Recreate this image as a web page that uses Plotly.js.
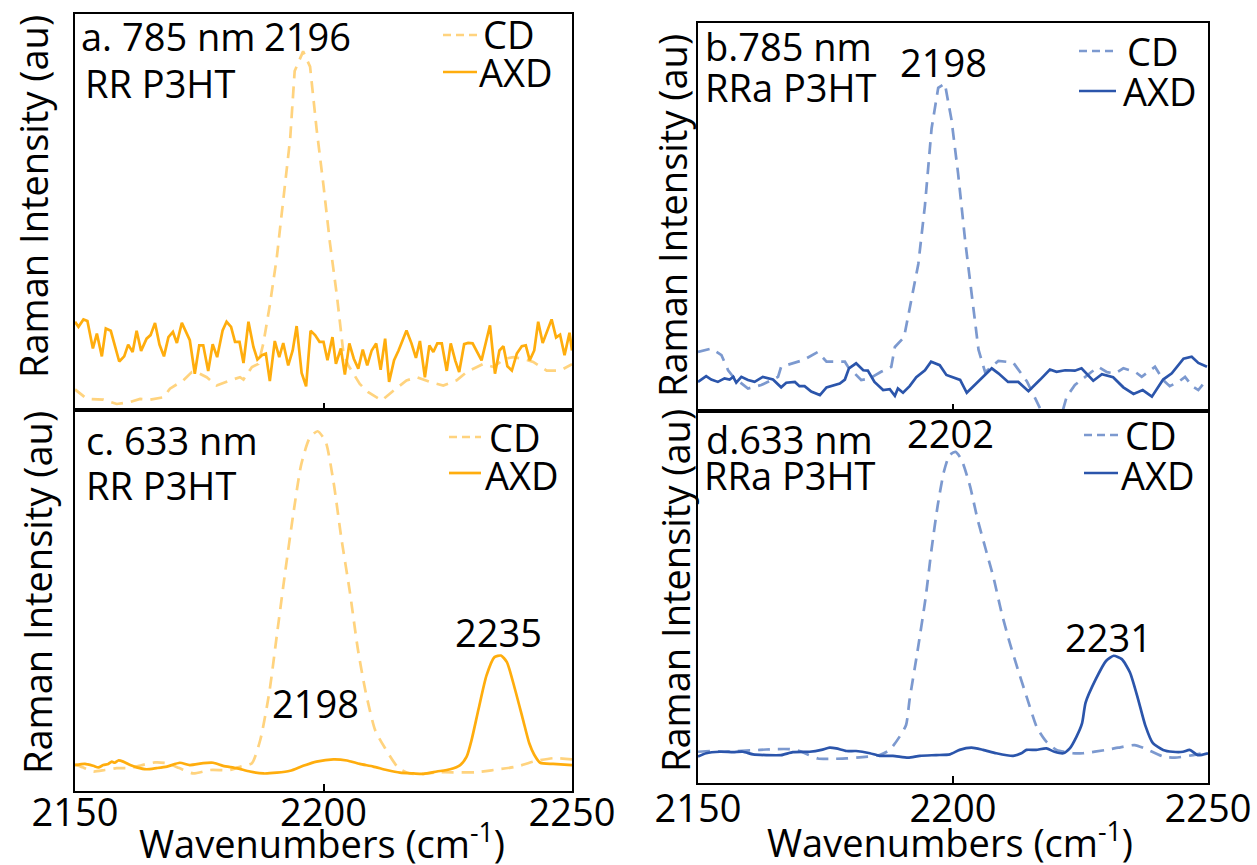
<!DOCTYPE html>
<html>
<head>
<meta charset="utf-8">
<script src="https://cdn.plot.ly/plotly-3.0.1.min.js"></script>
<style>html,body{margin:0;padding:0;background:#fff}#chart{width:1257px;height:865px}</style>
</head>
<body>
<div id="chart"></div>
<script>
// ---------- data (wavenumber cm^-1, Raman intensity in arbitrary units) ----------
const tickVals = [2150, 2200, 2250];
const tickText = ['2150', '2200', '2250'];

// a. 785 nm, RR P3HT
const a_cd_x = [2150.0,2152.4,2155.7,2158.4,2161.1,2163.1,2165.1,2167.8,2169.1,2171.8,2173.5,2174.8,2176.5,2178.5,2181.2,2183.2,2183.9,2185.6,2186.9,2187.9,2189.2,2190.6,2191.9,2193.3,2194.2,2195.9,2197.3,2198.6,2200.0,2201.3,2202.7,2204.0,2205.0,2207.3,2209.0,2211.7,2213.7,2216.7,2218.8,2221.4,2224.1,2226.8,2228.8,2232.2,2234.2,2236.5,2238.2,2240.2,2242.2,2244.9,2247.6,2250.0];
const a_cd_y = [4.6,2.2,2.0,0.9,1.4,2.2,2.0,2.6,4.8,6.9,9.0,8.8,7.7,5.6,6.9,7.7,7.1,10.3,11.1,16.3,26.0,38.1,52.7,68.4,85.5,90.5,86.6,70.9,56.4,41.8,28.4,13.9,10.7,6.0,3.9,1.8,3.9,6.9,7.7,6.5,5.6,6.9,9.0,11.1,10.3,12.4,12.8,12.4,11.6,9.4,9.4,11.0];
const a_axd_x = [2150.0,2150.7,2151.7,2152.5,2153.6,2154.4,2155.4,2156.2,2157.2,2158.9,2159.9,2160.7,2161.6,2162.4,2163.3,2164.4,2165.2,2166.1,2167.0,2167.9,2168.8,2169.7,2170.5,2171.5,2173.1,2174.1,2175.0,2175.8,2176.8,2177.7,2178.6,2179.7,2180.5,2181.4,2182.2,2183.1,2183.9,2184.9,2185.9,2186.7,2187.6,2188.4,2189.2,2190.2,2191.1,2191.9,2192.9,2193.8,2194.6,2195.6,2196.5,2197.4,2198.3,2199.2,2200.0,2200.8,2201.8,2202.5,2203.5,2204.3,2205.2,2206.1,2207.0,2207.9,2208.8,2209.7,2210.6,2211.5,2212.4,2213.2,2214.2,2215.1,2216.7,2217.7,2218.6,2219.4,2220.4,2221.3,2222.1,2222.9,2223.8,2224.8,2225.6,2226.5,2227.3,2228.3,2229.1,2230.0,2231.8,2233.5,2234.5,2235.4,2236.2,2237.0,2237.9,2238.9,2239.9,2240.7,2241.5,2242.4,2243.2,2244.1,2245.9,2246.8,2247.6,2248.5,2249.5,2250.0];
const a_axd_y = [21.8,20.5,22.4,22.0,15.0,18.8,13.0,20.1,19.5,11.7,13.0,16.0,14.1,19.5,14.4,17.5,18.4,21.5,16.0,13.0,17.9,19.2,16.4,21.5,17.1,8.6,15.8,15.8,9.3,16.1,12.8,19.6,21.8,20.5,16.7,16.7,11.3,21.8,15.4,12.2,13.3,13.7,6.7,16.9,12.8,16.4,10.7,14.5,20.7,8.8,5.4,19.5,18.4,16.7,16.7,12.0,17.9,11.1,15.0,8.4,16.3,12.4,9.9,14.7,10.7,14.5,16.3,9.6,17.5,6.5,12.0,14.5,19.6,16.3,12.6,16.9,7.7,15.8,14.1,16.3,16.3,9.3,16.3,12.0,9.0,16.1,16.4,16.3,12.0,20.9,8.6,14.5,15.6,10.5,9.4,13.7,15.6,15.8,12.0,14.5,21.8,16.4,22.4,17.8,18.5,13.3,19.0,14.5];

// b. 785 nm, RRa P3HT
const b_cd_x = [2150.0,2152.6,2154.6,2155.9,2156.9,2159.8,2162.4,2165.7,2166.3,2168.6,2170.6,2173.5,2175.2,2178.8,2179.4,2182.0,2183.7,2185.9,2187.9,2188.6,2190.4,2193.2,2194.5,2195.8,2197.1,2198.4,2199.7,2201.0,2202.4,2203.7,2205.0,2206.3,2208.9,2211.8,2214.5,2216.1,2217.4,2219.4,2221.0,2222.3,2223.9,2227.2,2228.5,2230.2,2231.8,2233.4,2235.7,2237.0,2238.2,2239.6,2241.2,2242.5,2244.2,2245.5,2246.9,2248.1,2249.7];
const b_cd_y = [15.2,16.1,14.4,10.5,8.8,5.8,6.7,8.8,11.4,12.3,13.1,15.2,12.7,12.7,11.4,8.0,8.4,10.1,11.4,16.5,19.0,37.9,53.0,72.8,83.3,84.4,75.1,61.2,43.7,29.7,15.8,10.0,12.9,12.5,7.6,3.3,-0.2,-4.9,-2.3,3.7,6.7,10.1,11.4,10.0,9.7,11.0,10.1,8.8,10.0,11.4,8.0,6.4,7.5,8.8,6.4,5.4,8.0];
const b_axd_x = [2150.0,2151.6,2152.6,2153.9,2155.2,2156.2,2156.9,2157.5,2158.5,2159.8,2161.1,2162.7,2164.7,2166.3,2167.3,2169.0,2169.9,2170.9,2172.2,2173.9,2175.2,2176.5,2177.8,2178.8,2179.6,2181.0,2182.4,2183.3,2184.6,2186.3,2187.6,2188.6,2189.2,2190.2,2191.5,2192.8,2194.5,2195.7,2197.4,2198.7,2199.7,2201.4,2202.7,2204.3,2205.9,2207.6,2208.9,2210.8,2212.8,2214.8,2217.1,2219.0,2220.3,2222.0,2223.9,2225.2,2227.5,2229.2,2231.4,2233.4,2235.4,2237.2,2239.0,2241.2,2242.9,2245.2,2246.8,2248.1,2249.8];
const b_axd_y = [7.5,9.0,8.1,7.5,8.4,8.1,8.8,7.3,8.8,8.0,7.5,8.8,8.1,6.1,7.3,7.5,6.4,6.4,5.0,4.1,6.1,6.7,7.1,8.1,11.0,12.3,10.5,10.4,7.5,5.4,5.6,3.9,5.8,4.7,6.4,8.7,10.5,12.7,11.8,9.3,8.8,8.0,4.7,6.7,8.8,11.0,9.7,7.5,7.5,5.1,8.1,10.7,10.1,10.5,10.4,11.0,7.8,9.5,8.7,6.1,4.4,5.4,3.7,8.1,9.7,13.5,14.0,12.4,11.4];

// c. 633 nm, RR P3HT
const c_cd_x = [2150.0,2151.5,2153.7,2156.0,2158.4,2161.1,2163.5,2166.1,2168.5,2171.0,2173.8,2177.2,2181.2,2183.5,2185.6,2187.3,2189.1,2190.7,2192.3,2193.9,2195.5,2197.2,2198.8,2200.4,2202.0,2203.6,2205.3,2206.9,2208.5,2210.4,2212.4,2215.1,2217.4,2220.0,2222.8,2226.1,2230.5,2234.2,2238.9,2242.2,2246.2,2250.0];
const c_cd_y = [7.0,6.2,5.1,5.5,6.0,6.0,6.8,7.5,7.3,6.0,4.6,5.5,5.5,6.5,7.3,13.5,25.9,41.7,57.5,72.4,85.5,92.5,94.3,91.7,81.1,66.2,52.2,37.3,25.9,15.9,11.2,6.0,4.6,4.5,4.9,4.9,4.9,5.5,6.4,7.7,8.6,8.3];
const c_axd_x = [2150.0,2152.0,2153.7,2154.7,2155.7,2156.7,2157.4,2158.0,2158.7,2159.7,2161.1,2162.4,2164.4,2166.4,2168.5,2171.1,2173.1,2175.8,2177.8,2179.8,2182.5,2185.2,2187.9,2190.6,2193.3,2195.9,2198.6,2202.0,2204.7,2207.3,2210.0,2212.7,2215.4,2218.1,2220.1,2222.8,2225.5,2227.5,2228.8,2229.8,2231.2,2232.8,2234.4,2235.7,2236.9,2238.5,2240.1,2241.4,2242.4,2243.6,2246.2,2250.0];
const c_axd_y = [6.8,7.1,6.6,6.2,6.8,7.1,7.7,7.4,8.0,7.7,6.8,6.2,5.7,6.0,6.4,7.4,6.8,7.3,7.4,6.6,6.0,5.1,4.6,4.8,5.3,6.6,7.7,8.3,8.0,7.1,6.4,5.5,4.8,4.6,4.5,5.1,5.7,6.8,9.0,13.4,21.5,30.3,35.1,35.5,33.8,26.8,18.9,12.5,9.5,7.4,7.1,6.8];

// d. 633 nm, RRa P3HT
const d_cd_x = [2150.0,2152.3,2155.2,2162.1,2164.7,2168.0,2169.9,2173.5,2175.8,2179.1,2181.7,2185.6,2187.6,2189.5,2190.8,2191.5,2193.0,2194.6,2195.8,2197.0,2198.2,2199.3,2200.5,2201.7,2203.3,2204.8,2206.4,2208.0,2209.5,2211.1,2212.7,2214.6,2216.5,2218.3,2220.3,2223.5,2225.5,2230.1,2232.4,2235.6,2237.9,2241.2,2243.5,2247.1,2250.0];
const d_cd_y = [8.4,8.6,8.4,8.9,9.1,9.1,8.6,6.6,6.5,6.6,6.9,7.5,8.9,12.4,15.6,22.5,35.1,49.5,62.9,74.6,83.6,88.1,89.0,86.8,80.0,71.0,62.9,54.9,45.9,37.8,30.6,22.5,14.8,11.1,8.9,8.0,8.0,8.9,9.5,10.2,9.1,7.1,6.8,7.5,8.3];
const d_axd_x = [2150.0,2151.6,2154.3,2156.9,2158.8,2160.8,2163.4,2166.3,2168.6,2171.9,2174.2,2175.8,2177.1,2179.1,2181.0,2183.7,2185.6,2188.2,2191.2,2193.5,2196.7,2199.4,2201.3,2203.6,2205.9,2208.5,2211.8,2213.4,2214.4,2216.3,2218.3,2219.9,2221.6,2222.9,2224.2,2225.3,2226.0,2228.0,2230.0,2231.5,2233.1,2234.7,2236.3,2237.7,2239.2,2241.2,2243.1,2245.1,2246.4,2248.0,2250.0];
const d_axd_y = [7.1,8.0,8.4,8.3,8.4,7.7,7.5,7.5,8.3,8.4,8.9,9.5,9.3,8.6,8.6,8.0,7.3,7.3,6.8,7.3,7.5,7.7,8.9,9.5,8.9,8.0,7.3,8.0,8.9,8.9,9.3,8.4,8.0,9.3,12.4,16.0,21.6,27.9,32.8,34.2,33.3,29.7,22.5,15.5,10.7,8.9,8.4,8.4,8.9,7.5,8.0];

// ---------- styling ----------
const W = 1257, H = 865;
const FONT = 'Open Sans';
const ORANGE = '#FFAD0D', ORANGE_L = '#FFD37E';
const BLUE = '#2B55AB', BLUE_L = '#7C99CF';
const DASH = '12px,8px';
const px = v => v / W;
const py = v => 1 - v / H;

function tr(x, y, xa, ya, color, dashed, name, shape) {
  return {x, y, xaxis: xa, yaxis: ya, type: 'scatter', mode: 'lines', name,
    showlegend: false, hoverinfo: 'skip',
    line: {color, width: 2.7, dash: dashed ? DASH : 'solid', shape: shape || 'linear', smoothing: 0.6}};
}

const data = [
  tr(a_cd_x, a_cd_y, 'x', 'y', ORANGE_L, true, 'CD'),
  tr(a_axd_x, a_axd_y, 'x', 'y', ORANGE, false, 'AXD'),
  tr(b_cd_x, b_cd_y, 'x2', 'y2', BLUE_L, true, 'CD'),
  tr(b_axd_x, b_axd_y, 'x2', 'y2', BLUE, false, 'AXD'),
  tr(c_cd_x, c_cd_y, 'x3', 'y3', ORANGE_L, true, 'CD', 'spline'),
  tr(c_axd_x, c_axd_y, 'x3', 'y3', ORANGE, false, 'AXD', 'spline'),
  tr(d_cd_x, d_cd_y, 'x4', 'y4', BLUE_L, true, 'CD', 'spline'),
  tr(d_axd_x, d_axd_y, 'x4', 'y4', BLUE, false, 'AXD', 'spline')
];

function xax(l, r, anchor, labels, standoff) {
  return {domain: [px(l), px(r)], anchor, range: [2150, 2250], tickvals: tickVals, ticktext: tickText,
    showticklabels: labels, ticks: 'inside', ticklen: 7, tickwidth: 2, tickcolor: '#000',
    ticklabelstandoff: standoff || 0,
    showline: true, mirror: true, linecolor: '#000', linewidth: 2,
    showgrid: false, zeroline: false, fixedrange: true,
    tickfont: {family: FONT, size: 38, color: '#000'}};
}
function yax(t, b, anchor, range) {
  return {domain: [py(b), py(t)], anchor, range, showticklabels: false, ticks: '',
    showline: true, mirror: true, linecolor: '#000', linewidth: 2,
    showgrid: false, zeroline: false, fixedrange: true};
}

function txt(t, x, y, anchor, angle) {
  return {text: t, x: px(x), y: py(y), xref: 'paper', yref: 'paper',
    xanchor: anchor || 'left', yanchor: 'middle', showarrow: false,
    textangle: angle || 0, font: {family: FONT, size: 38, color: '#000'}};
}
function sample(x0, x1, y, color, dashed) {
  return {type: 'line', xref: 'paper', yref: 'paper', x0: px(x0), x1: px(x1), y0: py(y), y1: py(y),
    line: {color, width: 2.7, dash: dashed ? '8px,5px' : 'solid'}};
}

const annotations = [
  // panel a
  txt('a. 785 nm', 79, 36), txt('RR P3HT', 83, 83), txt('2196', 307, 36, 'center'),
  txt('CD', 481, 34), txt('AXD', 477, 72),
  // panel b
  txt('b.785 nm', 703, 46), txt('RRa P3HT', 703, 87), txt('2198', 943, 62, 'center'),
  txt('CD', 1125, 51), txt('AXD', 1121, 91),
  // panel c
  txt('c. 633 nm', 84, 440), txt('RR P3HT', 84, 485), txt('2235', 498, 632, 'center'), txt('2198', 315, 703, 'center'),
  txt('CD', 487, 437), txt('AXD', 483, 475),
  // panel d
  txt('d.633 nm', 704, 439), txt('RRa P3HT', 702, 475), txt('2202', 950, 433, 'center'), txt('2231', 1108, 637, 'center'),
  txt('CD', 1123, 435), txt('AXD', 1119, 475),
  // axis titles
  txt('Raman Intensity (au)', 33, 197, 'center', -90),
  txt('Raman Intensity (au)', 37, 593, 'center', -90),
  txt('Raman Intensity (au)', 672, 216, 'center', -90),
  txt('Raman Intensity (au)', 675, 591, 'center', -90),
  txt('Wavenumbers (cm<sup>-1</sup>)', 322, 841, 'center'),
  txt('Wavenumbers (cm<sup>-1</sup>)', 950, 840, 'center')
];

const shapes = [
  sample(443, 477, 35, ORANGE_L, true), sample(443, 477, 72, ORANGE, false),
  sample(1079, 1116, 51, BLUE_L, true), sample(1079, 1116, 91, BLUE, false),
  sample(449, 481, 437, ORANGE_L, true), sample(449, 481, 473, ORANGE, false),
  sample(1084, 1118, 435, BLUE_L, true), sample(1084, 1118, 473, BLUE, false)
];

const layout = {
  width: W, height: H, margin: {l: 0, r: 0, t: 0, b: 0},
  paper_bgcolor: '#fff', plot_bgcolor: '#fff', showlegend: false,
  font: {family: FONT, color: '#000'},
  xaxis: xax(75, 572, 'y', false),
  yaxis: yax(14, 409.5, 'x', [-0.5, 100]),
  xaxis2: xax(698, 1208, 'y2', false),
  yaxis2: yax(23, 411, 'x2', [0, 100]),
  xaxis3: xax(75, 572, 'y3', true, -13),
  yaxis3: yax(409.5, 791, 'x3', [0, 100]),
  xaxis4: xax(698, 1208, 'y4', true, -9),
  yaxis4: yax(411, 783, 'x4', [0, 100]),
  annotations, shapes
};

Plotly.newPlot('chart', data, layout, {staticPlot: true, displayModeBar: false});
</script>
</body>
</html>
